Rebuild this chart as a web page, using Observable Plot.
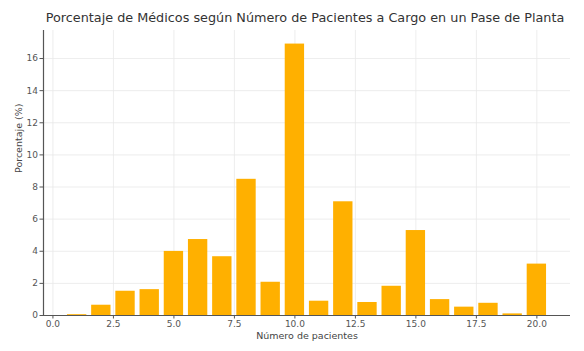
<!DOCTYPE html>
<html>
<head>
<meta charset="utf-8">
<script src="https://cdn.jsdelivr.net/npm/d3@7"></script>
<script src="https://cdn.jsdelivr.net/npm/@observablehq/plot@0.6"></script>
<style>
  html, body { margin: 0; padding: 0; background: #fff; }
  #chart { width: 584px; height: 351px; }
</style>
</head>
<body>
<div id="chart"></div>
<script>
const title = "Porcentaje de Médicos según Número de Pacientes a Cargo en un Pase de Planta";
const xLabel = "Número de pacientes";
const yLabel = "Porcentaje (%)";
const pacientes = [1, 2, 3, 4, 5, 6, 7, 8, 9, 10, 11, 12, 13, 14, 15, 16, 17, 18, 19, 20];
const porcentaje = [0.05, 0.64, 1.51, 1.61, 3.99, 4.73, 3.66, 8.48, 2.07, 16.9, 0.89, 7.08, 0.81, 1.82, 5.29, 0.99, 0.52, 0.76, 0.1, 3.2];
const xTicks = [0, 2.5, 5, 7.5, 10, 12.5, 15, 17.5, 20];
const yTicks = [0, 2, 4, 6, 8, 10, 12, 14, 16];

const data = pacientes.map((p, i) => ({p, v: porcentaje[i]}));
const barW = 0.8;
const xmin = pacientes[0] - barW / 2, xmax = pacientes[pacientes.length - 1] + barW / 2;
const xpad = (xmax - xmin) * 0.05;
const ymax = d3.max(porcentaje) * 1.05;

const axisColor = "#555";
const font = "DejaVu Sans, sans-serif";

const chart = Plot.plot({
  width: 584,
  height: 351,
  marginLeft: 43,
  marginRight: 14,
  marginTop: 30,
  marginBottom: 36,
  style: {fontFamily: font, fontSize: "9px", color: axisColor, background: "#fff"},
  x: {domain: [xmin - xpad, xmax + xpad], ticks: xTicks, tickFormat: d => d.toFixed(1)},
  y: {domain: [0, ymax], ticks: yTicks},
  marks: [
    Plot.gridX(xTicks, {stroke: "#e8e8e8", strokeOpacity: 1, strokeWidth: 0.8}),
    Plot.gridY(yTicks, {stroke: "#e8e8e8", strokeOpacity: 1, strokeWidth: 0.8}),
    Plot.rectY(data, {x1: d => d.p - barW / 2, x2: d => d.p + barW / 2, y1: 0, y2: "v", fill: "#ffb000"}),
    Plot.axisX(xTicks, {tickSize: 3.5, tickPadding: 2, tickFormat: d => d.toFixed(1), stroke: axisColor, fill: axisColor, label: null, fontSize: 9}),
    Plot.axisY(yTicks, {tickSize: 3.5, tickPadding: 2, stroke: axisColor, fill: axisColor, label: null, fontSize: 9}),
    Plot.ruleY([0], {stroke: axisColor, strokeWidth: 1.2}),
    Plot.ruleX([xmin - xpad], {stroke: axisColor, strokeWidth: 1.2}),
    Plot.text([title], {frameAnchor: "top", dy: -18, dx: -2, fontSize: 12.8, fill: "#333", fontFamily: font}),
    Plot.text([xLabel], {frameAnchor: "bottom", dy: 23, fontSize: 9.5, fill: "#444", fontFamily: font}),
    Plot.text([yLabel], {frameAnchor: "left", dx: -25, rotate: -90, fontSize: 9.5, fill: "#444", fontFamily: font})
  ]
});
document.getElementById("chart").appendChild(chart);
</script>
</body>
</html>
